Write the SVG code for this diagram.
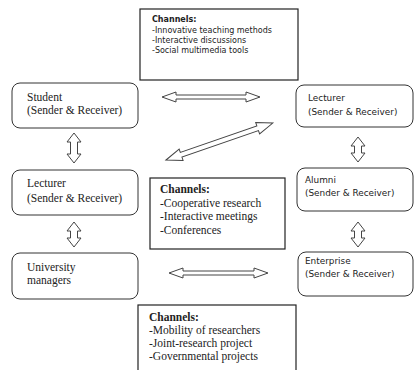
<svg xmlns="http://www.w3.org/2000/svg" width="415" height="370" viewBox="0 0 415 370">
<style>
.nb{fill:#fff;stroke:#333;stroke-width:1}
.cb{fill:#fff;stroke:#222;stroke-width:1.2}
.ar{fill:#fff;stroke:#444;stroke-width:1;stroke-linejoin:miter}
.ser{font-family:"Liberation Serif","Times New Roman",serif;font-size:11.5px;fill:#222}
.san{font-family:"DejaVu Sans",Verdana,sans-serif;font-size:8.9px;fill:#222}
.sm{font-family:"DejaVu Sans",Verdana,sans-serif;font-size:8px;fill:#222}
.b{font-weight:bold}
</style>
<rect width="415" height="370" fill="#fff"/>
<g id="channels-top">
<rect class="cb" x="140" y="9" width="158" height="71"/>
<text class="sm b" x="152" y="22">Channels:</text>
<text class="sm" x="152" y="33">-Innovative teaching methods</text>
<text class="sm" x="152" y="43">-Interactive discussions</text>
<text class="sm" x="152" y="53">-Social multimedia tools</text>
</g>
<g id="student">
<rect class="nb" x="12" y="83" width="126" height="45" rx="8"/>
<text class="ser" x="27" y="101">Student</text>
<text class="ser" x="27" y="114">(Sender &amp; Receiver)</text>
</g>
<g id="lecturer-left">
<rect class="nb" x="12" y="170" width="126" height="45" rx="8"/>
<text class="ser" x="27" y="187">Lecturer</text>
<text class="ser" x="27" y="202">(Sender &amp; Receiver)</text>
</g>
<g id="university-managers">
<rect class="nb" x="12" y="253" width="126" height="46" rx="8"/>
<text class="ser" x="27" y="271">University</text>
<text class="ser" x="27" y="284">managers</text>
</g>
<g id="lecturer-right">
<rect class="nb" x="296" y="85" width="117" height="42" rx="8"/>
<text class="san" x="308" y="101" font-size="8px">Lecturer</text>
<text class="san" x="308" y="115">(Sender &amp; Receiver)</text>
</g>
<g id="alumni">
<rect class="nb" x="297" y="168" width="116" height="43" rx="8"/>
<text class="san" x="305" y="183" font-size="8px">Alumni</text>
<text class="san" x="305" y="196">(Sender &amp; Receiver)</text>
</g>
<g id="enterprise">
<rect class="nb" x="298" y="252" width="115" height="44" rx="8"/>
<text class="san" x="305" y="264" font-size="8px">Enterprise</text>
<text class="san" x="305" y="277">(Sender &amp; Receiver)</text>
</g>
<g id="channels-middle">
<rect class="cb" x="150" y="178" width="135" height="71"/>
<text class="ser b" x="160" y="193">Channels:</text>
<text class="ser" x="160" y="207">-Cooperative research</text>
<text class="ser" x="160" y="220">-Interactive meetings</text>
<text class="ser" x="160" y="234">-Conferences</text>
</g>
<g id="channels-bottom">
<rect class="cb" x="138" y="305" width="158" height="66"/>
<text class="ser b" x="149" y="321">Channels:</text>
<text class="ser" x="149" y="334">-Mobility of researchers</text>
<text class="ser" x="149" y="347">-Joint-research project</text>
<text class="ser" x="149" y="360">-Governmental projects</text>
</g>
<g id="connectors">
<path class="ar" d="M162,97 L176,92 L176,95 L246,95 L246,92 L260,97 L246,102 L246,99 L176,99 L176,102 Z"/>
<path class="ar" d="M169,273 L183,268 L183,271 L254,271 L254,268 L268,273 L254,278 L254,275 L183,275 L183,278 Z"/>
<path class="ar" transform="translate(166,160) rotate(-19.1)" d="M0,0 L16,-6 L16,-2.5 L97,-2.5 L97,-6 L113,0 L97,6 L97,2.5 L16,2.5 L16,6 Z"/>
<path class="ar" d="M74,133 L81,142 L77.5,142 L77.5,154 L81,154 L74,163 L67,154 L70.5,154 L70.5,142 L67,142 Z"/>
<path class="ar" d="M74,222 L81,231 L77.5,231 L77.5,238 L81,238 L74,247 L67,238 L70.5,238 L70.5,231 L67,231 Z"/>
<path class="ar" d="M358,137 L365,146 L361.5,146 L361.5,153 L365,153 L358,162 L351,153 L354.5,153 L354.5,146 L351,146 Z"/>
<path class="ar" d="M358,222 L365,231 L361.5,231 L361.5,238 L365,238 L358,247 L351,238 L354.5,238 L354.5,231 L351,231 Z"/>
</g>
</svg>
